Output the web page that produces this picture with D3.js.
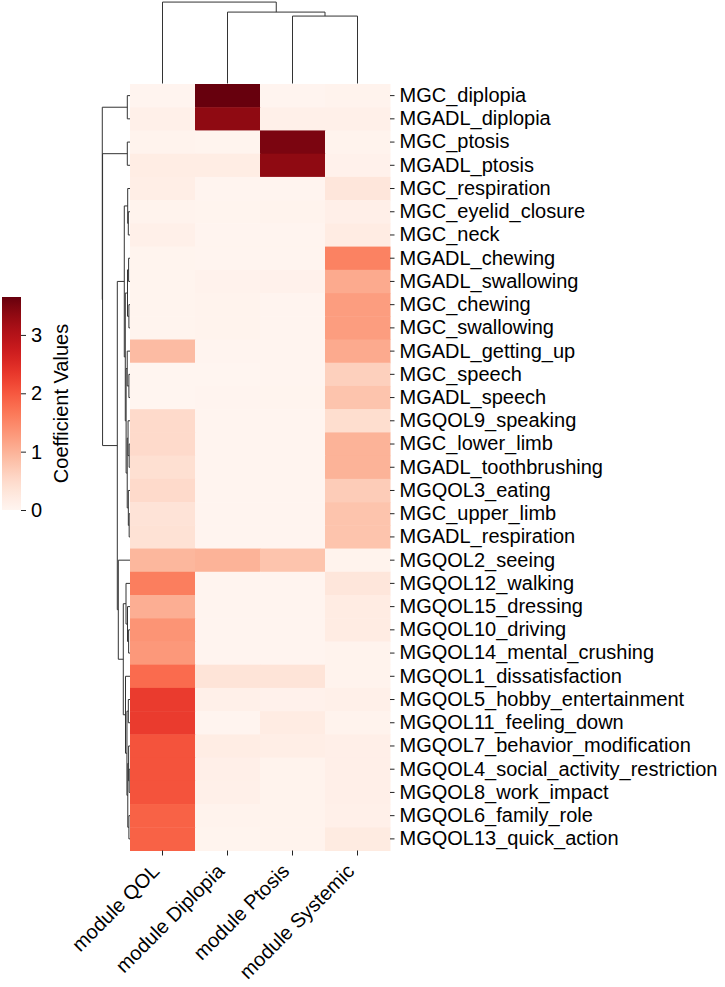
<!DOCTYPE html>
<html lang="en">
<head>
<meta charset="UTF-8">
<title>Clustermap</title>
<style>
  body { margin: 0; background: #fff; }
  svg text { font-family: "Liberation Sans", Arial, sans-serif; fill: #000; }
</style>
</head>
<body>
<div id="chart"></div>
<script src="https://cdn.jsdelivr.net/npm/d3@7"></script>
<script>
// row / column names in clustered order
const rowLabels = [
  "MGC_diplopia", "MGADL_diplopia", "MGC_ptosis", "MGADL_ptosis", "MGC_respiration",
  "MGC_eyelid_closure", "MGC_neck", "MGADL_chewing", "MGADL_swallowing", "MGC_chewing",
  "MGC_swallowing", "MGADL_getting_up", "MGC_speech", "MGADL_speech", "MGQOL9_speaking",
  "MGC_lower_limb", "MGADL_toothbrushing", "MGQOL3_eating", "MGC_upper_limb", "MGADL_respiration",
  "MGQOL2_seeing", "MGQOL12_walking", "MGQOL15_dressing", "MGQOL10_driving", "MGQOL14_mental_crushing",
  "MGQOL1_dissatisfaction", "MGQOL5_hobby_entertainment", "MGQOL11_feeling_down", "MGQOL7_behavior_modification",
  "MGQOL4_social_activity_restriction", "MGQOL8_work_impact", "MGQOL6_family_role", "MGQOL13_quick_action"
];
const colLabels = ["module QOL", "module Diplopia", "module Ptosis", "module Systemic"];

// coefficient values per module (same order as rowLabels)
const qolValues = [0.02, 0.10, 0.05, 0.18, 0.15, 0.05, 0.10, 0.03, 0.03, 0.03, 0.03, 0.90, 0.00, 0.00, 0.50,
  0.50, 0.42, 0.50, 0.36, 0.38, 0.95, 1.60, 1.05, 1.35, 1.30, 1.80, 2.30, 2.30, 2.05, 2.05, 2.05, 1.90, 1.90];
const diplopiaValues = [3.65, 3.35, 0.03, 0.18, 0.02, 0.03, 0.02, 0.02, 0.06, 0.04, 0.05, 0.02, 0.00, 0.02, 0.02,
  0.02, 0.02, 0.02, 0.02, 0.02, 1.00, 0.02, 0.02, 0.02, 0.02, 0.35, 0.10, 0.02, 0.18, 0.12, 0.10, 0.04, 0.03];
const ptosisValues = [0.02, 0.10, 3.50, 3.35, 0.02, 0.04, 0.02, 0.02, 0.08, 0.02, 0.02, 0.02, 0.02, 0.03, 0.02,
  0.02, 0.02, 0.02, 0.02, 0.02, 0.80, 0.02, 0.02, 0.02, 0.02, 0.35, 0.08, 0.20, 0.15, 0.05, 0.05, 0.04, 0.04];
const systemicValues = [0.05, 0.10, 0.05, 0.08, 0.30, 0.12, 0.20, 1.55, 1.10, 1.25, 1.25, 1.10, 0.65, 0.80, 0.45,
  1.00, 1.00, 0.70, 0.80, 0.80, 0.05, 0.30, 0.20, 0.20, 0.04, 0.04, 0.10, 0.05, 0.12, 0.12, 0.12, 0.10, 0.22];

// linkage, scipy style: [childA, childB, distance]; ids >= n are earlier merges
const rowLinkage = [
  [0, 1, 0.097], [2, 3, 0.097], [5, 6, 0.061], [4, 35, 0.083],
  [7, 8, 0.05], [9, 10, 0.04], [37, 38, 0.09], [12, 13, 0.04],
  [11, 40, 0.10], [15, 16, 0.03], [14, 42, 0.07], [18, 19, 0.03],
  [17, 44, 0.06], [43, 45, 0.10], [41, 46, 0.14], [39, 47, 0.17],
  [36, 48, 0.206], [23, 24, 0.05], [22, 50, 0.09], [21, 51, 0.144],
  [26, 27, 0.06], [29, 30, 0.03], [28, 54, 0.05], [31, 32, 0.04],
  [55, 56, 0.08], [53, 57, 0.11], [25, 58, 0.162], [52, 59, 0.242],
  [20, 60, 0.422], [49, 61, 0.458], [34, 62, 0.99], [33, 63, 1.0]
];
const colLinkage = [[2, 3, 0.828], [1, 4, 0.877], [0, 5, 1.0]];

const cbTicks = [0, 1, 2, 3];
const vmax = 3.65;

const width = 725, height = 987;
const heat = { left: 130, right: 390, top: 84, bottom: 850.5 };

const svg = d3.select("#chart").append("svg")
  .attr("width", width)
  .attr("height", height);

const values = rowLabels.map((r, i) => [qolValues[i], diplopiaValues[i], ptosisValues[i], systemicValues[i]]);
const cells = [];
values.forEach((row, i) => row.forEach((v, j) => cells.push({ row: rowLabels[i], col: colLabels[j], v: v })));

const x = d3.scaleBand(colLabels, [heat.left, heat.right]);
const y = d3.scaleBand(rowLabels, [heat.top, heat.bottom]);
const color = d3.scaleSequential(d3.interpolateReds).domain([0, vmax]);

svg.append("g")
  .selectAll("rect")
  .data(cells)
  .join("rect")
  .attr("x", d => x(d.col))
  .attr("y", d => y(d.row))
  .attr("width", x.bandwidth() + 0.5)
  .attr("height", y.bandwidth() + 0.5)
  .attr("fill", d => color(d.v));

// right axis with row labels
const yAxis = svg.append("g")
  .attr("transform", `translate(${heat.right},0)`)
  .call(d3.axisRight(y).tickSize(4.5).tickPadding(5));
yAxis.select(".domain").remove();
yAxis.selectAll("text").attr("font-size", 20).attr("fill", "#000");
yAxis.selectAll("line").attr("stroke", "#222");

// bottom axis, rotated labels
const xAxis = svg.append("g")
  .attr("transform", `translate(0,${heat.bottom})`)
  .call(d3.axisBottom(x).tickSize(5));
xAxis.select(".domain").remove();
xAxis.selectAll("line").attr("stroke", "#222");
xAxis.selectAll("text")
  .attr("font-size", 20)
  .attr("fill", "#000")
  .attr("text-anchor", "end")
  .attr("dy", 0)
  .attr("y", 0)
  .attr("transform", "translate(-2,22) rotate(-45)");

// dendrograms
function buildTree(linkage, n, leafPos) {
  const nodes = [];
  for (let i = 0; i < n; i++) nodes.push({ pos: leafPos(i), h: 0 });
  const links = [];
  linkage.forEach(([a, b, h]) => {
    const na = nodes[a], nb = nodes[b];
    links.push({ a: na, b: nb, h: h });
    nodes.push({ pos: (na.pos + nb.pos) / 2, h: h });
  });
  return links;
}

const rowLinks = buildTree(rowLinkage, rowLabels.length, i => y(rowLabels[i]) + y.bandwidth() / 2);
const rowMax = d3.max(rowLinkage, d => d[2]);
const hx = d3.scaleLinear().domain([0, rowMax * 1.05]).range([heat.left, heat.left - 29.1]);

svg.append("g")
  .attr("fill", "none")
  .attr("stroke", "#333")
  .attr("stroke-width", 1)
  .selectAll("path")
  .data(rowLinks)
  .join("path")
  .attr("d", d => `M${hx(d.a.h)},${d.a.pos}H${hx(d.h)}V${d.b.pos}H${hx(d.b.h)}`);

const colLinks = buildTree(colLinkage, colLabels.length, i => x(colLabels[i]) + x.bandwidth() / 2);
const colMax = d3.max(colLinkage, d => d[2]);
const hy = d3.scaleLinear().domain([0, colMax * 1.05]).range([heat.top - 0.5, -2]);

svg.append("g")
  .attr("fill", "none")
  .attr("stroke", "#333")
  .attr("stroke-width", 1)
  .selectAll("path")
  .data(colLinks)
  .join("path")
  .attr("d", d => `M${d.a.pos},${hy(d.a.h)}V${hy(d.h)}H${d.b.pos}V${hy(d.b.h)}`);

// colorbar
const cb = { x: 2, w: 19, top: 297, bottom: 510 };
const grad = svg.append("defs").append("linearGradient")
  .attr("id", "cbgrad")
  .attr("x1", 0).attr("y1", 1).attr("x2", 0).attr("y2", 0);
d3.range(0, 1.0001, 0.05).forEach(t => {
  grad.append("stop").attr("offset", t).attr("stop-color", d3.interpolateReds(t));
});
svg.append("rect")
  .attr("x", cb.x).attr("y", cb.top)
  .attr("width", cb.w).attr("height", cb.bottom - cb.top)
  .attr("fill", "url(#cbgrad)");

const cbScale = d3.scaleLinear().domain([0, vmax]).range([cb.bottom, cb.top]);
const cbAxis = svg.append("g")
  .attr("transform", `translate(${cb.x + cb.w},0)`)
  .call(d3.axisRight(cbScale).tickValues(cbTicks).tickFormat(d3.format("d")).tickSize(5).tickPadding(5));
cbAxis.select(".domain").remove();
cbAxis.selectAll("line").attr("stroke", "#222");
cbAxis.selectAll("text").attr("font-size", 20).attr("fill", "#000");

svg.append("text")
  .attr("transform", `translate(68,${(cb.top + cb.bottom) / 2}) rotate(-90)`)
  .attr("text-anchor", "middle")
  .attr("font-size", 20)
  .text("Coefficient Values");
</script>
</body>
</html>
